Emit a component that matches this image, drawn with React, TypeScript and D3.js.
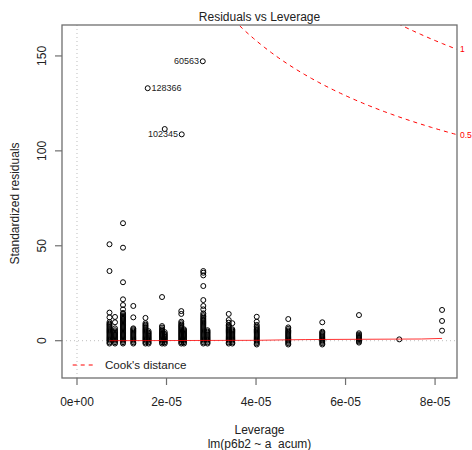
import React from "react";
import * as d3 from "d3";

// ---- data ----
const groupLeverage = [
  0.726e-5, 0.849e-5, 1.028e-5, 1.258e-5, 1.53e-5, 1.6e-5, 1.9e-5, 1.96e-5,
  2.33e-5, 2.39e-5, 2.822e-5, 2.916e-5, 3.39e-5, 3.47e-5, 4.016e-5, 4.72e-5,
  5.48e-5, 6.3e-5, 7.2e-5, 8.156e-5,
];

const groupResiduals: number[][] = [
  [-1.5, -0.8, 0, 0.6, 1.2, 1.8, 2.4, 3, 3.6, 4.2, 4.8, 5.4, 6, 6.6, 7.2, 7.8, 8.4, 9, 9.8, 12.3, 14.8, 36.7, 50.8],
  [-1.5, -0.8, 0, 0.6, 1.2, 1.8, 2.4, 3, 3.6, 4.2, 4.8, 5.5, 6.5, 9.7, 12.5],
  [-1.5, -0.8, 0, 0.6, 1.2, 1.8, 2.4, 3, 3.6, 4.2, 4.8, 5.4, 6, 6.6, 7.2, 7.8, 8.4, 9, 9.6, 10.2, 10.8, 11.4, 12, 12.6, 13.2, 14, 14.6, 16.5, 18.8, 21.8, 30.8, 49, 61.9],
  [-1.5, -0.8, 0, 0.6, 1.2, 1.8, 2.4, 3, 3.6, 4.2, 4.8, 5.4, 6, 6.5, 12.3, 18.3],
  [-1.5, -0.8, 0, 0.6, 1.2, 1.8, 2.4, 3, 3.6, 4.2, 4.8, 5.4, 6, 6.6, 7.2, 7.8, 8.4, 9.2, 12],
  [-1.5, -0.8, 0, 0.6, 1.2, 1.8, 2.4, 3, 3.6, 4.2, 5],
  [-1.5, -0.8, 0, 0.6, 1.2, 1.8, 2.4, 3, 3.6, 4.2, 4.8, 5.4, 6, 6.9, 7.7, 23],
  [-1.5, -0.8, 0, 0.6, 1.2, 1.8, 2.4, 3, 3.6, 4.5, 111.5],
  [-1.5, -0.8, 0, 0.6, 1.2, 1.8, 2.4, 3, 3.6, 4.2, 4.8, 5.4, 6, 6.6, 7.2, 7.8, 8.4, 9.2, 10, 14.1, 15.6],
  [-1.5, -0.8, 0, 0.6, 1.2, 1.8, 2.4, 3, 3.6, 4.2, 4.8, 5.4, 6],
  [-1.5, -0.8, 0, 0.6, 1.2, 1.8, 2.4, 3, 3.6, 4.2, 4.8, 5.4, 6, 6.6, 7.2, 7.8, 8.4, 9, 9.6, 10.2, 10.8, 11.4, 12, 12.8, 13.5, 14.4, 16.5, 18.3, 21.4, 28.8, 34.4, 35.8, 36.7],
  [-1.5, -0.8, 0, 0.6, 1.2, 1.8, 2.4, 3, 3.6, 4.2, 4.8, 5.5],
  [-1.5, -0.8, 0, 0.6, 1.2, 1.8, 2.4, 3, 3.6, 4.2, 4.8, 5.4, 6, 6.6, 7.2, 7.8, 8.3, 9.5, 10.9, 14.1],
  [-1.5, -0.8, 0, 0.6, 1.2, 1.8, 2.4, 3, 3.6, 4.2, 4.8, 5.4, 6, 9.2],
  [-2, -1.3, -0.6, 0, 0.6, 1.2, 1.8, 2.4, 3, 3.6, 4.2, 4.8, 5.4, 6, 6.7, 7.4, 8.3, 10, 12.6],
  [-2, -1.3, -0.6, 0, 0.6, 1.2, 1.8, 2.4, 3, 3.6, 4.2, 4.8, 5.4, 6.2, 7, 11.4],
  [-2, -1.3, -0.6, 0, 0.6, 1.2, 1.8, 2.4, 3, 3.6, 4.2, 4.7, 9.7],
  [-1, -0.4, 0.2, 0.8, 1.4, 2, 2.6, 3.2, 3.9, 13.5],
  [0.7],
  [5.3, 10.4, 16.2],
];

const labelIds = ["60563", "128366", "102345"];
const labelLeverage = [2.81e-5, 1.58e-5, 2.34e-5];
const labelResiduals = [147.2, 133, 108.7];
const labelSide = ["left", "right", "left"];

const smoothLeverage = [0.726e-5, 4.0e-5, 5.1e-5, 7.7e-5, 8.156e-5];
const smoothResiduals = [0.0, 0.2, 0.6, 0.9, 1.2];

const cookLevels = [0.5, 1];
const cookLabels = ["0.5", "1"];
const nParams = 2;

const xTicks = [0, 2e-5, 4e-5, 6e-5, 8e-5];
const xTickLabels = ["0e+00", "2e-05", "4e-05", "6e-05", "8e-05"];
const yTicks = [0, 50, 100, 150];

// ---- layout ----
const W = 472;
const H = 450;
const L = 62, R = 457, T = 25, B = 378;
const FONT = "'Liberation Sans', Arial, Helvetica, sans-serif";
const RED = "#FF0000";
const TXT = "#222";
const AX = "#6f6f6f";

export default function App() {
  const x = d3.scaleLinear().domain([-0.335e-5, 8.49e-5]).range([L, R]);
  const y = d3.scaleLinear().domain([-19.65, 166.3]).range([B, T]);

  const pts: { lx: number; r: number }[] = [];
  groupLeverage.forEach((lv, i) => {
    groupResiduals[i].forEach((r) => pts.push({ lx: lv, r }));
  });

  const xmax = x.domain()[1];
  const hmin = groupLeverage[0] / 2;
  const hh = d3.range(101).map((i) => hmin + (xmax - hmin) * (i / 100));

  const curves = cookLevels.map((lvl) => {
    const line = d3
      .line<number>()
      .x((h) => x(h))
      .y((h) => y(Math.sqrt((lvl * nParams * (1 - h)) / h)));
    return line(hh) || "";
  });

  const smooth =
    d3
      .line<number>()
      .x((_, i) => x(smoothLeverage[i]))
      .y((d) => y(d))(smoothResiduals) || "";

  return (
    <svg
      width={W}
      height={H}
      style={{ position: "absolute", left: 0, top: 0, background: "#fff" }}
      fontFamily={FONT}
    >
      <rect x={0} y={0} width={W} height={H} fill="#fff" />
      <defs>
        <clipPath id="plotclip">
          <rect x={L} y={T} width={R - L} height={B - T} />
        </clipPath>
      </defs>

      {/* reference lines */}
      <g clipPath="url(#plotclip)">
        <line x1={L} x2={R} y1={y(0)} y2={y(0)} stroke="#bebebe" strokeDasharray="1,3" />
        <line x1={x(0)} x2={x(0)} y1={T} y2={B} stroke="#bebebe" strokeDasharray="1,3" />
      </g>

      {/* points */}
      <g>
        {pts.map((p, i) => (
          <circle key={i} cx={x(p.lx)} cy={y(p.r)} r={2.5} fill="none" stroke="#000" strokeWidth={1} />
        ))}
        {labelIds.map((id, i) => (
          <circle key={"l" + i} cx={x(labelLeverage[i])} cy={y(labelResiduals[i])} r={2.5} fill="none" stroke="#000" strokeWidth={1} />
        ))}
      </g>

      {/* smoother */}
      <path d={smooth} fill="none" stroke={RED} strokeWidth={1} strokeOpacity={0.8} />

      {/* cook's distance contours */}
      <g clipPath="url(#plotclip)">
        {curves.map((d, i) => (
          <path key={i} d={d} fill="none" stroke={RED} strokeWidth={1} strokeDasharray="4,4" />
        ))}
      </g>
      {cookLevels.map((lvl, i) => (
        <text
          key={i}
          x={R + 3}
          y={y(Math.sqrt((lvl * nParams * (1 - xmax)) / xmax))}
          dy="0.35em"
          fontSize={8.5}
          fill={RED}
        >
          {cookLabels[i]}
        </text>
      ))}

      {/* point labels */}
      {labelIds.map((id, i) => (
        <text
          key={id}
          x={x(labelLeverage[i]) + (labelSide[i] === "left" ? -3.8 : 3.8)}
          y={y(labelResiduals[i])}
          dy="0.35em"
          fontSize={9}
          fill={TXT}
          textAnchor={labelSide[i] === "left" ? "end" : "start"}
        >
          {id}
        </text>
      ))}

      {/* box */}
      <rect x={L} y={T} width={R - L} height={B - T} fill="none" stroke={AX} strokeWidth={1.3} />

      {/* x axis */}
      <g>
        {xTicks.map((t, i) => (
          <g key={i}>
            <line x1={x(t)} x2={x(t)} y1={B} y2={B + 7} stroke={AX} strokeWidth={1.2} />
            <text x={x(t)} y={406} textAnchor="middle" fontSize={12} fill={TXT}>
              {xTickLabels[i]}
            </text>
          </g>
        ))}
      </g>

      {/* y axis */}
      <g>
        {yTicks.map((t, i) => (
          <g key={i}>
            <line x1={L - 7} x2={L} y1={y(t)} y2={y(t)} stroke={AX} strokeWidth={1.2} />
            <text
              transform={`translate(46,${y(t)}) rotate(-90)`}
              textAnchor="middle"
              fontSize={12}
              fill={TXT}
            >
              {t}
            </text>
          </g>
        ))}
      </g>

      {/* titles */}
      <text x={(L + R) / 2} y={21} textAnchor="middle" fontSize={12} fill={TXT}>
        Residuals vs Leverage
      </text>
      <text x={(L + R) / 2} y={434} textAnchor="middle" fontSize={12} fill={TXT}>
        Leverage
      </text>
      <text x={(L + R) / 2} y={448} textAnchor="middle" fontSize={12} fill={TXT} style={{ whiteSpace: "pre" }}>
        {"lm(p6b2 ~ a  acum)"}
      </text>
      <text
        transform={`translate(19,${(T + B) / 2 + 2}) rotate(-90)`}
        textAnchor="middle"
        fontSize={12}
        fill={TXT}
      >
        Standardized residuals
      </text>

      {/* legend */}
      <line x1={72.7} x2={94.3} y1={365} y2={365} stroke={RED} strokeWidth={1} strokeDasharray="4,4" />
      <text x={105} y={369} fontSize={11.6} fill={TXT}>
        Cook's distance
      </text>
    </svg>
  );
}
